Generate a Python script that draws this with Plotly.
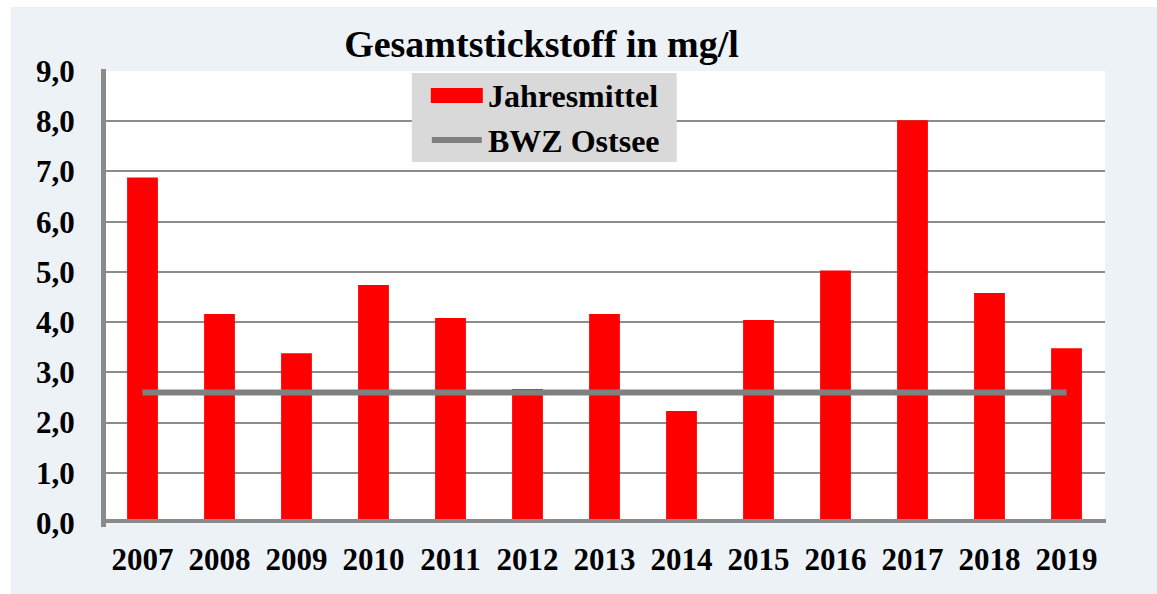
import plotly.graph_objects as go

years = ["2007", "2008", "2009", "2010", "2011", "2012", "2013",
         "2014", "2015", "2016", "2017", "2018", "2019"]
jahresmittel = [6.88, 4.16, 3.38, 4.74, 4.08, 2.67, 4.16,
                2.23, 4.04, 5.03, 8.02, 4.58, 3.48]
bwz_ostsee = [2.6] * len(years)
y_ticks = [0, 1, 2, 3, 4, 5, 6, 7, 8, 9]

FONT = "Liberation Serif"
W, H = 1157, 594
L, R, T, B = 104, 51.5, 71, 71
pw, ph = W - L - R, H - T - B

def px_x(x):
    return (x - L) / pw

def px_y(y):
    return (H - B - y) / ph

fig = go.Figure()
fig.add_trace(go.Bar(x=years, y=jahresmittel, name="Jahresmittel",
                     marker=dict(color="#ff0000", line=dict(width=0)),
                     showlegend=False))
fig.add_trace(go.Scatter(x=years, y=bwz_ostsee, name="BWZ Ostsee", mode="lines",
                         line=dict(color="#808080", width=6),
                         showlegend=False))

shapes = [
    # outer white strips
    dict(type="rect", xref="paper", yref="paper", x0=px_x(0), x1=px_x(W), y0=px_y(0), y1=px_y(7),
         fillcolor="white", line=dict(width=0), layer="below"),
    dict(type="rect", xref="paper", yref="paper", x0=px_x(0), x1=px_x(11), y0=px_y(0), y1=px_y(H),
         fillcolor="white", line=dict(width=0), layer="below"),
    # left axis line
    dict(type="line", xref="paper", yref="paper", x0=px_x(103.5), x1=px_x(103.5),
         y0=px_y(69), y1=px_y(527), line=dict(color="#8a8a8a", width=5)),
    # bottom axis line
    dict(type="line", xref="paper", yref="y", x0=px_x(101), x1=px_x(1106.5), y0=0, y1=0,
         line=dict(color="#8a8a8a", width=8)),
    # legend box
    dict(type="rect", xref="paper", yref="paper", x0=px_x(412), x1=px_x(677),
         y0=px_y(73), y1=px_y(162), fillcolor="#d9d9d9", line=dict(width=0)),
    dict(type="rect", xref="paper", yref="paper", x0=px_x(431), x1=px_x(483),
         y0=px_y(88), y1=px_y(103), fillcolor="#ff0000", line=dict(width=0)),
    dict(type="line", xref="paper", yref="paper", x0=px_x(432), x1=px_x(482),
         y0=px_y(140), y1=px_y(140), line=dict(color="#808080", width=6)),
]

annotations = [
    dict(text="Jahresmittel", xref="paper", yref="paper", x=px_x(486), y=px_y(96),
         xanchor="left", yanchor="middle", showarrow=False,
         font=dict(family=FONT, size=32, color="black", weight="bold")),
    dict(text="BWZ Ostsee", xref="paper", yref="paper", x=px_x(486), y=px_y(141),
         xanchor="left", yanchor="middle", showarrow=False,
         font=dict(family=FONT, size=32, color="black", weight="bold")),
]

fig.update_layout(
    width=W, height=H,
    margin=dict(l=L, r=R, t=T, b=B, autoexpand=False),
    paper_bgcolor="#edf2f7",
    plot_bgcolor="white",
    separators=",.",
    bargap=0.6,
    title=dict(text="Gesamtstickstoff in mg/l", x=541.5 / W, xref="container", xanchor="center",
               y=1 - 44 / H, yref="container", yanchor="middle",
               font=dict(family=FONT, size=38, color="black", weight="bold")),
    shapes=shapes,
    annotations=annotations,
    showlegend=False,
)
fig.update_xaxes(type="category", showgrid=False, showline=False, zeroline=False,
                 automargin=False,
                 ticks="outside", ticklen=9, tickcolor="rgba(0,0,0,0)",
                 tickfont=dict(family=FONT, size=31, color="black", weight="bold"))
fig.update_yaxes(range=[0, 9], tickvals=y_ticks, tickformat=".1f",
                 automargin=False,
                 showgrid=True, gridcolor="#8c8c8c", gridwidth=2,
                 showline=False, zeroline=False,
                 ticks="outside", ticklen=22, tickcolor="rgba(0,0,0,0)",
                 tickfont=dict(family=FONT, size=31, color="black", weight="bold"))

fig.write_html("out.html", config={"displayModeBar": False},
               post_script="document.body.style.margin='0';document.body.style.overflow='hidden';")
